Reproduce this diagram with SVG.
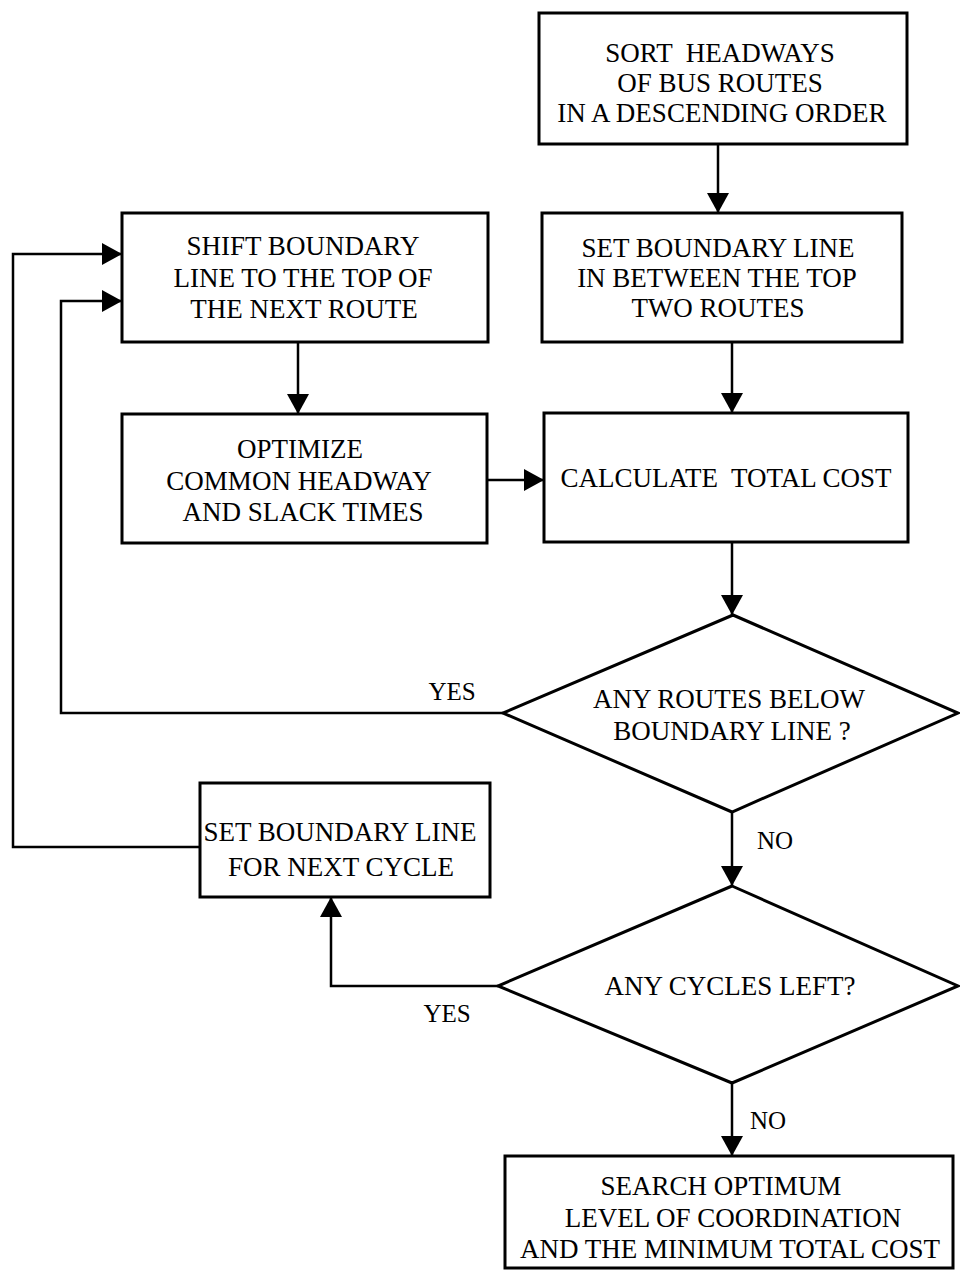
<svg xmlns="http://www.w3.org/2000/svg" width="960" height="1270" viewBox="0 0 960 1270">
<style>
.box{fill:#fff;stroke:#000;stroke-width:3}
.dia{fill:#fff;stroke:#000;stroke-width:3;stroke-linejoin:miter}
.t{font-family:"Liberation Serif","Times New Roman",serif;font-size:27px;fill:#000;text-anchor:middle}
.lbl{font-family:"Liberation Serif","Times New Roman",serif;font-size:25px;fill:#000;text-anchor:middle}
.c{fill:none;stroke:#000;stroke-width:2.5;marker-end:url(#ah)}
.cn{fill:none;stroke:#000;stroke-width:2.5}
</style>
<defs>
<marker id="ah" markerUnits="userSpaceOnUse" markerWidth="20" markerHeight="22" refX="20" refY="11" orient="auto">
<path d="M0,0 L20,11 L0,22 z" fill="#000"/>
</marker>
</defs>
<rect width="960" height="1270" fill="#fff"/>
<g id="connectors">
<path class="c" d="M718,144 V213"/>
<path class="c" d="M732,342 V413"/>
<path class="c" d="M298,342 V414"/>
<path class="c" d="M487,480 H544"/>
<path class="c" d="M732,542 V615"/>
<path class="c" d="M503,713 H61 V301 H122"/>
<path class="c" d="M200,847 H13 V254 H122"/>
<path class="c" d="M732,812 V886"/>
<path class="c" d="M498,986 H331 V897"/>
<path class="c" d="M732,1083 V1156"/>
<text class="lbl" x="452" y="700">YES</text>
<text class="lbl" x="775" y="849">NO</text>
<text class="lbl" x="447" y="1022">YES</text>
<text class="lbl" x="768" y="1129">NO</text>
</g>
<g id="sort">
<rect class="box" x="539" y="13" width="368" height="131"/>
<text class="t" xml:space="preserve" x="720" y="62">SORT  HEADWAYS</text>
<text class="t" x="720" y="92">OF BUS ROUTES</text>
<text class="t" x="722" y="122">IN A DESCENDING ORDER</text>
</g>
<g id="setBoundary">
<rect class="box" x="542" y="213" width="360" height="129"/>
<text class="t" x="718" y="257">SET BOUNDARY LINE</text>
<text class="t" x="717" y="287">IN BETWEEN THE TOP</text>
<text class="t" x="718" y="317">TWO ROUTES</text>
</g>
<g id="shift">
<rect class="box" x="122" y="213" width="366" height="129"/>
<text class="t" x="303" y="255">SHIFT BOUNDARY</text>
<text class="t" x="303" y="287">LINE TO THE TOP OF</text>
<text class="t" x="304" y="318">THE NEXT ROUTE</text>
</g>
<g id="optimize">
<rect class="box" x="122" y="414" width="365" height="129"/>
<text class="t" x="300" y="458">OPTIMIZE</text>
<text class="t" x="299" y="490">COMMON HEADWAY</text>
<text class="t" x="303" y="521">AND SLACK TIMES</text>
</g>
<g id="calculate">
<rect class="box" x="544" y="413" width="364" height="129"/>
<text class="t" xml:space="preserve" x="726" y="487">CALCULATE  TOTAL COST</text>
</g>
<g id="anyRoutes">
<polygon class="dia" points="733,615 958,713 732,812 503,713"/>
<text class="t" x="729" y="708">ANY ROUTES BELOW</text>
<text class="t" x="732" y="740">BOUNDARY LINE ?</text>
</g>
<g id="nextCycle">
<rect class="box" x="200" y="783" width="290" height="114"/>
<text class="t" x="340" y="841">SET BOUNDARY LINE</text>
<text class="t" x="341" y="876">FOR NEXT CYCLE</text>
</g>
<g id="anyCycles">
<polygon class="dia" points="732,886 958,986 732,1083 498,986"/>
<text class="t" x="730" y="995">ANY CYCLES LEFT?</text>
</g>
<g id="search">
<rect class="box" x="505" y="1156" width="448" height="112"/>
<text class="t" x="721" y="1195">SEARCH OPTIMUM</text>
<text class="t" x="733" y="1227">LEVEL OF COORDINATION</text>
<text class="t" x="730" y="1258">AND THE MINIMUM TOTAL COST</text>
</g>
</svg>
